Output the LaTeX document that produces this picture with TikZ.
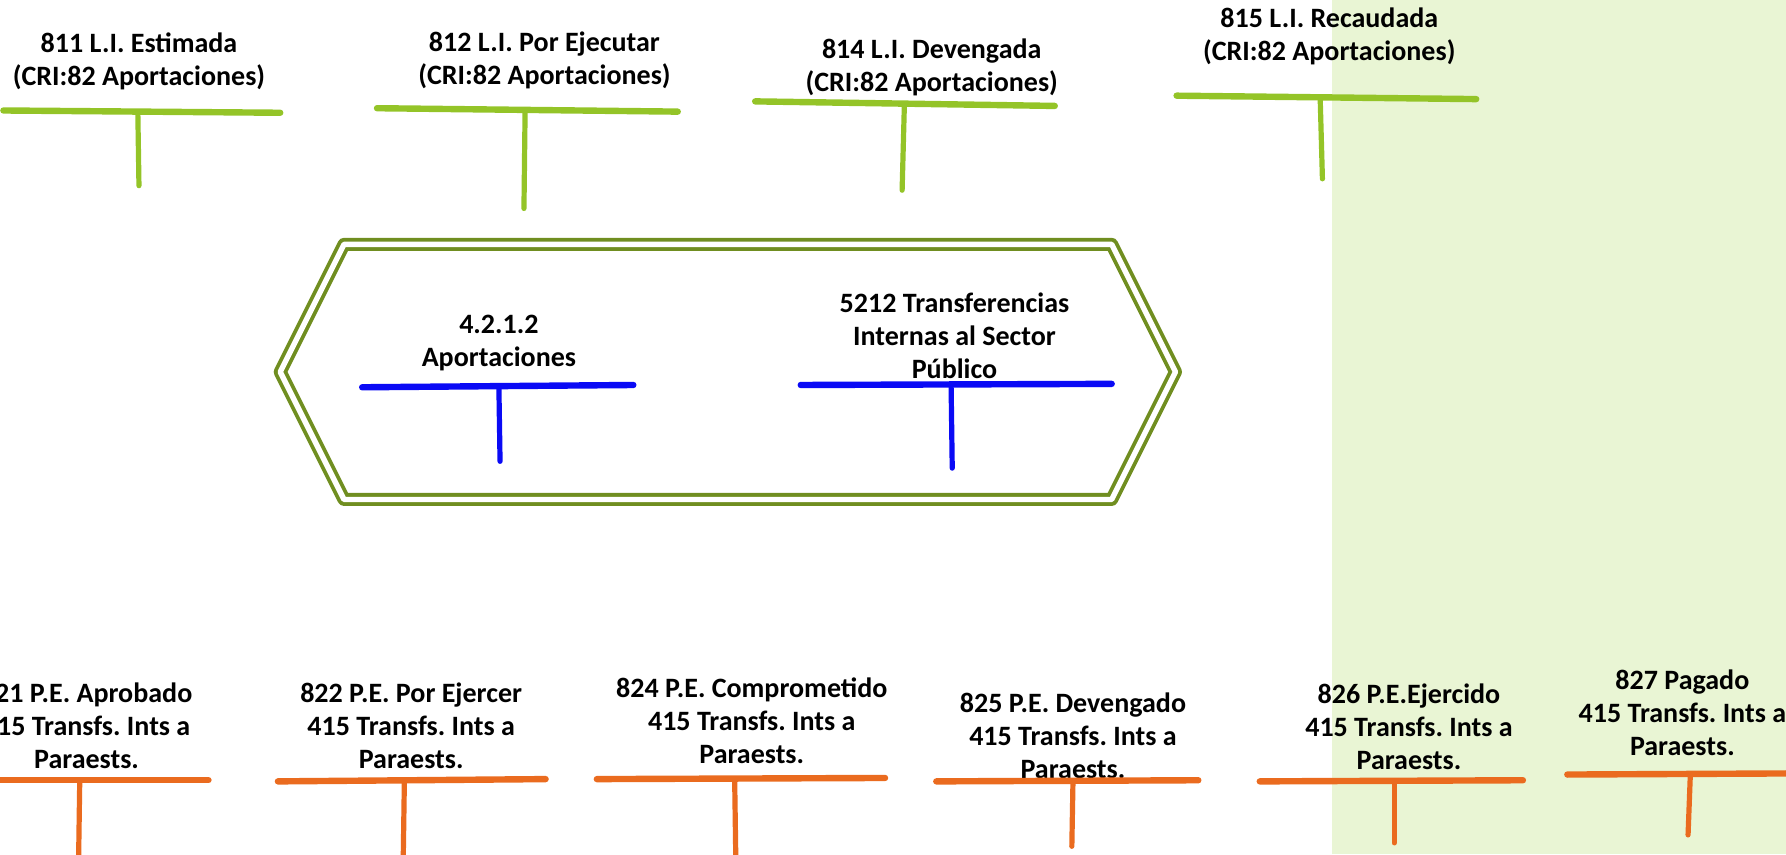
\documentclass[tikz,border=0pt]{standalone}
\usepackage{fontspec}
\setmainfont{Carlito}
\frenchspacing
\definecolor{ligreen}{RGB}{148,196,40}
\definecolor{hexgreen}{RGB}{112,142,32}
\definecolor{ctablue}{RGB}{10,10,245}
\definecolor{ctaorange}{RGB}{234,107,31}
\definecolor{bgpale}{RGB}{233,245,212}
\tikzset{
	acctitle/.style={align=center,inner sep=0pt,font=\fontsize{14}{16.4}\selectfont\bfseries},
	greenbar/.style={draw=ligreen,line width=3.2pt,line cap=round},
	greenstem/.style={draw=ligreen,line width=2.6pt,line cap=round},
	bluebar/.style={draw=ctablue,line width=3.2pt,line cap=round},
	bluestem/.style={draw=ctablue,line width=2.6pt,line cap=round},
	orangebar/.style={draw=ctaorange,line width=3.2pt,line cap=round},
	orangestem/.style={draw=ctaorange,line width=2.6pt,line cap=round},
	hexframe/.style={draw=hexgreen,double=white,line width=1.9pt,double distance=2.7pt,line join=round}
}
\begin{document}
\begin{tikzpicture}[x=0.02cm,y=-0.02cm]
	\useasboundingbox (0,0) rectangle (1568,750);
	\clip (0,0) rectangle (1568,750);
	\fill[bgpale] (1169,0) rectangle (1568,750);
	% cuentas de ley de ingresos
	\node[acctitle] (li811) at (122,54) {811 L.I. Estimada\\(CRI:82 Aportaciones)};
	\node[acctitle] (li812) at (478,53) {812 L.I. Por Ejecutar\\(CRI:82 Aportaciones)};
	\node[acctitle] (li814) at (818,59) {814 L.I. Devengada\\(CRI:82 Aportaciones)};
	\node[acctitle] (li815) at (1167,32) {815 L.I. Recaudada\\(CRI:82 Aportaciones)};
	\draw[greenbar] (3,97) -- (246,99);
	\draw[greenstem] (121,98) -- (122,163);
	\draw[greenbar] (331,95) -- (595,98);
	\draw[greenstem] (461,97) -- (460,183);
	\draw[greenbar] (663,89) -- (926,93);
	\draw[greenstem] (794,91) -- (792,167);
	\draw[greenbar] (1033,84) -- (1296,87);
	\draw[greenstem] (1159,85) -- (1161,157);
	% marco central
	\draw[hexframe] (302,214.5) -- (976,214.5) -- (1032,326.5) -- (976,438.5) -- (302,438.5) -- (246,326.5) -- cycle;
	\node[acctitle] (c4212) at (438,301.5) {4.2.1.2\\Aportaciones};
	\node[acctitle] (c5212) at (838,295) {5212 Transferencias\\Internas al Sector\\Público};
	\draw[bluebar] (318,340) -- (556,338);
	\draw[bluestem] (438,340) -- (439,405);
	\draw[bluebar] (703,338) -- (976,337);
	\draw[bluestem] (835,338) -- (836,411);
	% cuentas de presupuesto de egresos
	\node[acctitle] (pe821) at (76,637) {821 P.E. Aprobado\\415 Transfs. Ints a\\Paraests.};
	\node[acctitle] (pe822) at (361,637) {822 P.E. Por Ejercer\\415 Transfs. Ints a\\Paraests.};
	\node[acctitle] (pe824) at (660,633) {824 P.E. Comprometido\\415 Transfs. Ints a\\Paraests.};
	\node[acctitle] (pe825) at (942,646) {825 P.E. Devengado\\415 Transfs. Ints a\\Paraests.};
	\node[acctitle] (pe826) at (1237,638) {826 P.E.Ejercido\\415 Transfs. Ints a\\Paraests.};
	\node[acctitle] (pe827) at (1477,626) {827 Pagado\\415 Transfs. Ints a\\Paraests.};
	\draw[orangebar] (-5,685) -- (183,685);
	\draw[orangestem] (70,686) -- (69,755);
	\draw[orangebar] (244,686) -- (479,684);
	\draw[orangestem] (355,686) -- (354,755);
	\draw[orangebar] (524,684) -- (777,683);
	\draw[orangestem] (645,685) -- (646,755);
	\draw[orangebar] (822,686) -- (1052,685);
	\draw[orangestem] (942,686) -- (941,743);
	\draw[orangebar] (1106,686) -- (1337,685);
	\draw[orangestem] (1224,686) -- (1224,740);
	\draw[orangebar] (1376,680) -- (1575,679);
	\draw[orangestem] (1484,680) -- (1482,733);
\end{tikzpicture}
\end{document}
